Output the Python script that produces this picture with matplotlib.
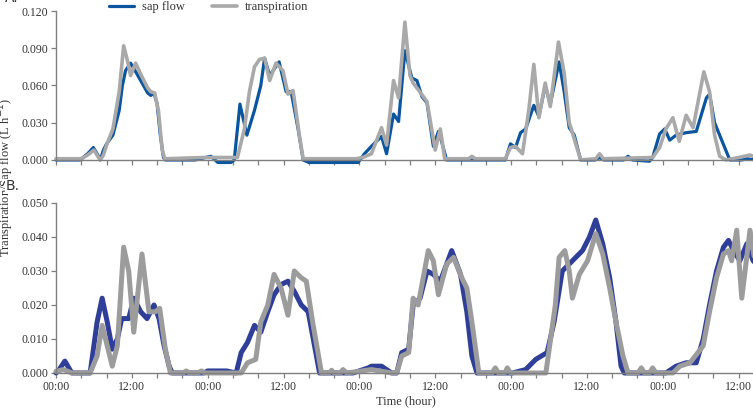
import matplotlib
matplotlib.use("Agg")
import matplotlib.pyplot as plt
import numpy as np

# (hour, value) points
top_sap = [(0, 0), (3.8, 0), (5, 0.005), (5.9, 0.010), (6.5, 0.005), (7, 0), (7.5, 0.008), (8, 0.013),
           (9, 0.020), (10, 0.040), (10.5, 0.060), (11, 0.072), (11.8, 0.078), (12.5, 0.072), (13.5, 0.063),
           (14.5, 0.054), (15, 0.052), (15.5, 0.054), (16, 0.045), (16.5, 0.020), (17, 0.002), (17.3, 0),
           (22, 0), (24.5, 0.003), (25.6, -0.002), (27.7, -0.002), (28.2, 0), (29.1, 0.045), (30.2, 0.020),
           (31.4, 0.040), (32.4, 0.060), (33, 0.082), (33.8, 0.068), (35.3, 0.079), (36.4, 0.055),
           (37.2, 0.055), (38.3, 0.025), (39.1, 0), (40, -0.002), (47.8, -0.002), (48.8, 0.005),
           (49.9, 0.011), (51.5, 0.019), (52.3, 0.005), (53.4, 0.037), (54.2, 0.031), (55.2, 0.088),
           (56.3, 0.066), (57.1, 0.064), (57.9, 0.051), (58.7, 0.046), (59.7, 0.011), (60.5, 0.023),
           (61, 0.015), (61.8, 0), (71.1, 0), (71.9, 0.013), (72.7, 0.010), (73.5, 0.022), (74.3, 0.025),
           (75.6, 0.044), (76.4, 0.035), (77.4, 0.060), (78.2, 0.045), (79.6, 0.079), (80.4, 0.055),
           (81.2, 0.026), (82, 0.020), (83, 0), (85.3, 0), (86, 0.002), (86.7, 0), (89.8, 0), (90.5, 0.003),
           (91.2, 0), (93.9, -0.001), (94.4, 0.002), (95.5, 0.021), (96.3, 0.025), (97.1, 0.016),
           (98.1, 0.020), (99.7, 0.022), (101.3, 0.023), (102.9, 0.050), (103.4, 0.053), (104.2, 0.030),
           (105, 0.020), (105.8, 0.010), (106.6, 0), (108.5, 0), (109.3, 0.001), (110.8, 0)]

top_tr = [(0, 0.001), (4, 0.001), (5, 0.004), (6, 0.008), (6.6, 0.003), (7, 0), (7.5, 0.004), (8, 0.012),
          (9, 0.025), (10, 0.055), (10.7, 0.092), (11.3, 0.080), (11.8, 0.068), (12.6, 0.078), (13.5, 0.068),
          (14.5, 0.058), (15, 0.055), (15.6, 0.054), (16.2, 0.040), (16.8, 0.008), (17.2, 0.001),
          (23.5, 0.002), (28.7, 0.002), (29.8, 0.025), (30.6, 0.055), (31.4, 0.075), (32.2, 0.081),
          (33, 0.082), (33.8, 0.064), (34.8, 0.078), (35.9, 0.072), (36.7, 0.053), (37.5, 0.056),
          (38.5, 0.020), (39.1, 0.001), (47.5, 0.001), (48.5, 0.002), (49.9, 0.005), (51.5, 0.026),
          (52.3, 0.012), (53.4, 0.064), (54.2, 0.050), (55.2, 0.111), (56, 0.068), (56.5, 0.062),
          (57.4, 0.056), (58.7, 0.047), (60, 0.008), (60.8, 0.025), (61.5, 0.001), (65.3, 0.001),
          (65.8, 0.003), (66.3, 0.001), (71.1, 0.001), (71.9, 0.010), (72.7, 0.011), (73.8, 0.005),
          (74.8, 0.040), (75.6, 0.077), (76.4, 0.034), (77.4, 0.062), (78.2, 0.043), (79.5, 0.095),
          (80.4, 0.070), (81.2, 0.030), (81.7, 0.022), (83, 0), (85.4, 0.001), (86, 0.005), (86.6, 0.001),
          (94.4, 0.002), (95.5, 0.010), (96.5, 0.025), (97.6, 0.034), (98.6, 0.015), (99.7, 0.036),
          (100.8, 0.026), (102.5, 0.071), (103.4, 0.055), (104.2, 0.020), (105, 0.003), (106, 0),
          (108, 0.002), (109.8, 0.004), (110.8, 0.002)]

bot_sap = [(0, 0), (0.5, 0.001), (1.4, 0.0035), (2.5, 0), (5.4, 0), (6.5, 0.015), (7.3, 0.022), (8.1, 0.015),
           (8.9, 0.007), (9.7, 0.010), (10.4, 0.016), (11.5, 0.016), (12.3, 0.022), (13.4, 0.018),
           (14.4, 0.016), (15.5, 0.020), (16.3, 0.016), (17.1, 0.008), (17.9, 0.002), (18.4, 0),
           (23.4, 0), (24, 0.0006), (27, 0.0006), (28.5, 0), (29.3, 0.006), (30.3, 0.009), (31.4, 0.014),
           (32.4, 0.012), (33.5, 0.018), (34.5, 0.023), (35.6, 0.026), (36.7, 0.027), (37.7, 0.024),
           (38.8, 0.020), (39.9, 0.018), (40.9, 0.008), (41.7, 0), (47, 0), (49.4, 0.0015), (49.9, 0.002),
           (51.5, 0.002), (53.1, 0), (53.9, 0), (54.7, 0.006), (55.8, 0.007), (56.5, 0.020), (57.6, 0.022),
           (58.7, 0.030), (59.7, 0.029), (60.8, 0.027), (62.6, 0.036), (64, 0.029), (65, 0.018),
           (65.8, 0.005), (66.6, 0), (72.2, 0), (74.3, 0.001), (75.9, 0.004), (77.7, 0.006), (78.8, 0.015),
           (80.1, 0.030), (81.7, 0.033), (83.3, 0.036), (84.4, 0.040), (85.4, 0.045), (86.5, 0.038),
           (87.6, 0.028), (88.6, 0.015), (89.4, 0.002), (89.9, 0), (96.5, 0), (98.1, 0.002), (99.7, 0.003),
           (101.3, 0.003), (102.4, 0.010), (103.4, 0.020), (104.5, 0.030), (105.6, 0.037), (106.4, 0.039),
           (107.2, 0.036), (108.2, 0.033), (109.3, 0.038), (110.3, 0.033), (110.8, 0.032)]

bot_tr = [(0, 0.0005), (1.2, 0.001), (2.5, 0), (5.4, 0), (6.5, 0.005), (7.3, 0.014), (8.1, 0.008), (8.9, 0.002),
          (9.7, 0.008), (10.7, 0.037), (11.5, 0.030), (12.3, 0.012), (13.6, 0.035), (14.7, 0.018),
          (15.7, 0.018), (16.4, 0.019), (17.3, 0.007), (18.1, 0), (20.1, 0), (20.6, 0.0006), (21.1, 0),
          (22.5, 0), (23, 0.0006), (23.5, 0), (29.3, 0), (30.3, 0.003), (31.6, 0.004), (32.4, 0.015),
          (33.5, 0.020), (34.5, 0.029), (35.6, 0.025), (36.7, 0.017), (37.7, 0.030), (38.8, 0.028),
          (39.6, 0.027), (40.6, 0.015), (42, 0), (43.2, 0), (43.6, 0.0008), (44, 0), (45, 0), (45.4, 0.001),
          (46, 0), (48, 0.0005), (49.9, 0.001), (53.1, 0), (53.9, 0), (54.7, 0.005), (55.8, 0.006),
          (56.5, 0.022), (57.3, 0.020), (58.9, 0.036), (59.7, 0.033), (60.5, 0.023), (61.8, 0.032),
          (62.9, 0.034), (64.2, 0.028), (65, 0.025), (65.8, 0.015), (66.9, 0), (69, 0), (69.5, 0.0015),
          (70, 0), (71, 0), (71.4, 0.0015), (71.9, 0), (77.5, 0), (79, 0.020), (79.6, 0.034), (80.5, 0.036),
          (81.2, 0.030), (81.7, 0.022), (82.8, 0.029), (84.1, 0.033), (85.4, 0.041), (86.5, 0.035),
          (87.6, 0.025), (88.6, 0.015), (89.7, 0.005), (90.5, 0), (92.1, 0), (92.6, 0.0015), (93.1, 0),
          (93.9, 0), (94.4, 0.0015), (94.9, 0), (97.6, 0), (98.7, 0.002), (100.3, 0.003), (102.4, 0.008),
          (103.4, 0.018), (104.5, 0.028), (105.6, 0.035), (106.4, 0.036), (106.9, 0.033), (107.7, 0.042),
          (108.5, 0.022), (109.8, 0.042), (110.8, 0.030)]

top_yticks = [0.0, 0.03, 0.06, 0.09, 0.12]
bot_yticks = [0.0, 0.01, 0.02, 0.03, 0.04, 0.05]
hour_labels = ["00:00", "12:00"]

serif = "Liberation Serif"
spine_c = "#7f7f7f"
text_c = "#333333"

fig = plt.figure(figsize=(7.53, 4.12), dpi=100)
ax1 = fig.add_axes([0.0744, 0.6117, 0.93, 0.3616])
ax2 = fig.add_axes([0.0744, 0.0947, 0.93, 0.4126])


def style(ax, yticks, show_x):
    for s in ["top", "right"]:
        ax.spines[s].set_visible(False)
    for s in ["left", "bottom"]:
        ax.spines[s].set_color(spine_c)
        ax.spines[s].set_linewidth(1.0)
    ax.set_xlim(0, 110.8)
    ax.set_ylim(0, yticks[-1])
    ax.set_yticks(yticks)
    ax.set_yticklabels(["%.3f" % v for v in yticks], fontfamily=serif, fontsize=8.5, color=text_c)
    ax.set_xticks(np.arange(0, 110, 4))
    ax.tick_params(axis="both", direction="out", length=3.5, width=0.9, color=spine_c, pad=2)
    ax.set_xticklabels([])
    if show_x:
        labs = [hour_labels[(h // 12) % 2] if h % 12 == 0 else "" for h in range(0, 110, 4)]
        ax.set_xticklabels(labs, fontfamily=serif, fontsize=8.5, color=text_c)


def draw(ax, pts, color, lw, label=None):
    t, v = zip(*pts)
    ax.plot(t, v, color=color, lw=lw, solid_joinstyle="round", solid_capstyle="round",
            clip_on=False, label=label)


draw(ax1, top_sap, "#0b559f", 2.3, "sap flow")
draw(ax1, top_tr, "#a9a9a9", 2.6, "transpiration")
draw(ax2, bot_sap, "#2f3f98", 3.6)
draw(ax2, bot_tr, "#9c9c9c", 3.6)

style(ax1, top_yticks, False)
style(ax2, bot_yticks, True)

ax2.set_xlabel("Time (hour)", fontfamily=serif, fontsize=9, color=text_c, labelpad=2)

fig.legend(*ax1.get_legend_handles_labels(), loc="center", bbox_to_anchor=(0.277, 0.983), ncol=2,
           frameon=False, handlelength=2.0, columnspacing=2.2, handletextpad=0.6,
           prop={"family": serif, "size": 9})
for t in fig.legends[0].get_texts():
    t.set_color(text_c)

fig.text(0.008, 0.57, "Transpiration/Sap flow (L h$^{-1}$)", rotation=90, ha="center", va="center",
         fontfamily=serif, fontsize=9, color=text_c)
fig.text(0.008, 0.548, "B.", ha="left", va="center", fontfamily="DejaVu Sans", fontsize=10, color=text_c,
         bbox=dict(facecolor="white", edgecolor="none", pad=0.5))
fig.text(0.006, 1.005, "A.", ha="left", va="center", fontfamily="DejaVu Sans", fontsize=10, color=text_c)

fig.savefig("out.png", dpi=100)
